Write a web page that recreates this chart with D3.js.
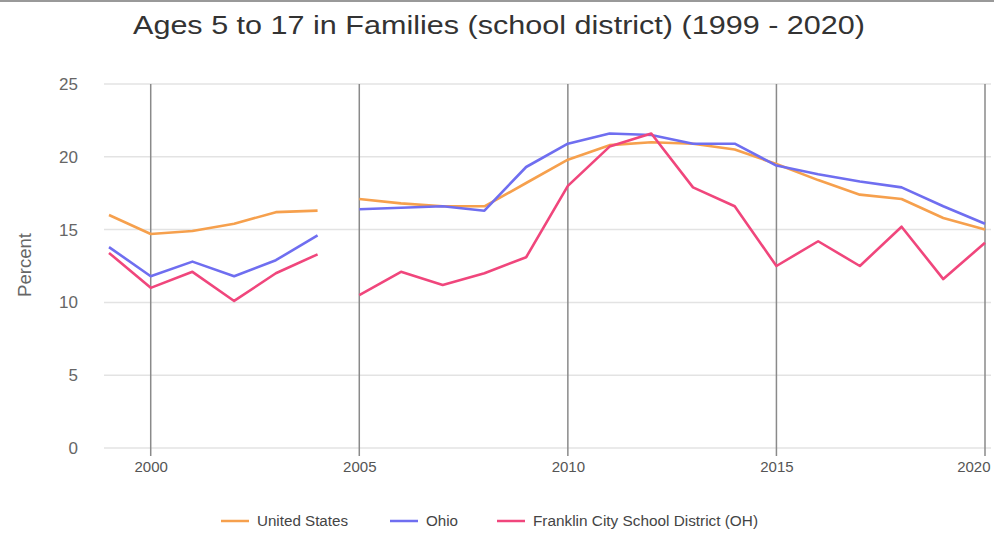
<!DOCTYPE html>
<html>
<head>
<meta charset="utf-8">
<script src="https://cdn.jsdelivr.net/npm/d3@7"></script>
<style>
  html, body { margin: 0; padding: 0; background: #fff; }
  svg { display: block; font-family: "Liberation Sans", Arial, sans-serif; }
</style>
</head>
<body>
<svg id="chart" width="994" height="533"></svg>
<script>
// Share of children aged 5 to 17 in families (poverty estimate), percent
const years = d3.range(1999, 2021);
const unitedStates = [16.0, 14.7, 14.9, 15.4, 16.2, 16.3, 17.1, 16.8, 16.6, 16.6, 18.2, 19.8, 20.8, 21.0, 20.9, 20.5, 19.5, 18.4, 17.4, 17.1, 15.8, 15.0];
const ohio         = [13.8, 11.8, 12.8, 11.8, 12.9, 14.6, 16.4, 16.5, 16.6, 16.3, 19.3, 20.9, 21.6, 21.5, 20.9, 20.9, 19.4, 18.8, 18.3, 17.9, 16.6, 15.4];
const franklin     = [13.4, 11.0, 12.1, 10.1, 12.0, 13.3, 10.5, 12.1, 11.2, 12.0, 13.1, 18.0, 20.7, 21.6, 17.9, 16.6, 12.5, 14.2, 12.5, 15.2, 11.6, 14.1];
// No line is drawn between these two years
const breakAfter = 2004;

const yTicks = [0, 5, 10, 15, 20, 25];
const xTicks = [2000, 2005, 2010, 2015, 2020];

const series = [
  { name: "United States", values: unitedStates, color: "#f6a04d" },
  { name: "Ohio", values: ohio, color: "#6f6ef0" },
  { name: "Franklin City School District (OH)", values: franklin, color: "#f0467c" }
];

const svg = d3.select("#chart");

const x = d3.scaleLinear().domain([1999, 2020]).range([109, 985]);
const y = d3.scaleLinear().domain([0, 25]).range([448, 84]);

// thin frame line along the top edge
svg.append("line")
  .attr("x1", 0).attr("x2", 994).attr("y1", 1).attr("y2", 1)
  .attr("stroke", "#999").attr("stroke-width", 2);

// title, set slightly wide
svg.append("text")
  .attr("x", 499).attr("y", 34)
  .attr("text-anchor", "middle")
  .attr("font-size", 26)
  .attr("fill", "#333")
  .attr("textLength", 732)
  .attr("lengthAdjust", "spacingAndGlyphs")
  .text("Ages 5 to 17 in Families (school district) (1999 - 2020)");

// horizontal gridlines
svg.append("g")
  .selectAll("line")
  .data(yTicks)
  .join("line")
  .attr("x1", 104).attr("x2", 991)
  .attr("y1", d => y(d)).attr("y2", d => y(d))
  .attr("stroke", "#e3e3e3").attr("stroke-width", 1.5);

// y axis labels
const yAxis = svg.append("g")
  .attr("transform", "translate(78,0)")
  .call(d3.axisLeft(y).tickValues(yTicks).tickSize(0).tickPadding(0));
yAxis.select(".domain").remove();
yAxis.selectAll("text")
  .attr("font-size", 17)
  .attr("font-family", "'Liberation Sans', Arial, sans-serif")
  .attr("fill", "#666");

// vertical gridlines with tick marks below the baseline
svg.append("g")
  .selectAll("line")
  .data(xTicks)
  .join("line")
  .attr("x1", d => x(d)).attr("x2", d => x(d))
  .attr("y1", y(25)).attr("y2", 456)
  .attr("stroke", "#8a8a8a").attr("stroke-width", 1.5);

// x axis labels; the last one is pulled inside the right edge
const xAxis = svg.append("g")
  .attr("transform", "translate(0,461)")
  .call(d3.axisBottom(x).tickValues(xTicks).tickFormat(d3.format("d")).tickSize(0).tickPadding(0));
xAxis.select(".domain").remove();
xAxis.selectAll("text")
  .attr("font-size", 15)
  .attr("font-family", "'Liberation Sans', Arial, sans-serif")
  .attr("fill", "#555")
  .attr("text-anchor", d => d === 2020 ? "end" : "middle")
  .attr("dx", d => d === 2020 ? 5 : 0);

// y axis title
svg.append("text")
  .attr("transform", "translate(31,265) rotate(-90)")
  .attr("text-anchor", "middle")
  .attr("font-size", 17.5)
  .attr("fill", "#666")
  .attr("textLength", 64)
  .attr("lengthAdjust", "spacingAndGlyphs")
  .text("Percent");

// series lines, broken between 2004 and 2005
const line = d3.line()
  .defined(d => d.v != null)
  .x(d => x(d.year))
  .y(d => y(d.v));

series.forEach(s => {
  const pts = [];
  years.forEach((yr, i) => {
    pts.push({ year: yr, v: s.values[i] });
    if (yr === breakAfter) pts.push({ year: yr + 0.5, v: null });
  });
  svg.append("path")
    .datum(pts)
    .attr("fill", "none")
    .attr("stroke", s.color)
    .attr("stroke-width", 2.6)
    .attr("stroke-linejoin", "round")
    .attr("d", line);
});

// legend
const legendX = [221, 390, 497];
const legendW = [91, 32, 225];
const legend = svg.append("g");
series.forEach((s, i) => {
  const g = legend.append("g").attr("transform", `translate(${legendX[i]},521)`);
  g.append("line")
    .attr("x1", 0).attr("x2", 28).attr("y1", 0).attr("y2", 0)
    .attr("stroke", s.color).attr("stroke-width", 2.5);
  g.append("text")
    .attr("x", 36).attr("y", 5)
    .attr("font-size", 14)
    .attr("fill", "#444")
    .attr("textLength", legendW[i])
    .attr("lengthAdjust", "spacingAndGlyphs")
    .text(s.name);
});
</script>
</body>
</html>
